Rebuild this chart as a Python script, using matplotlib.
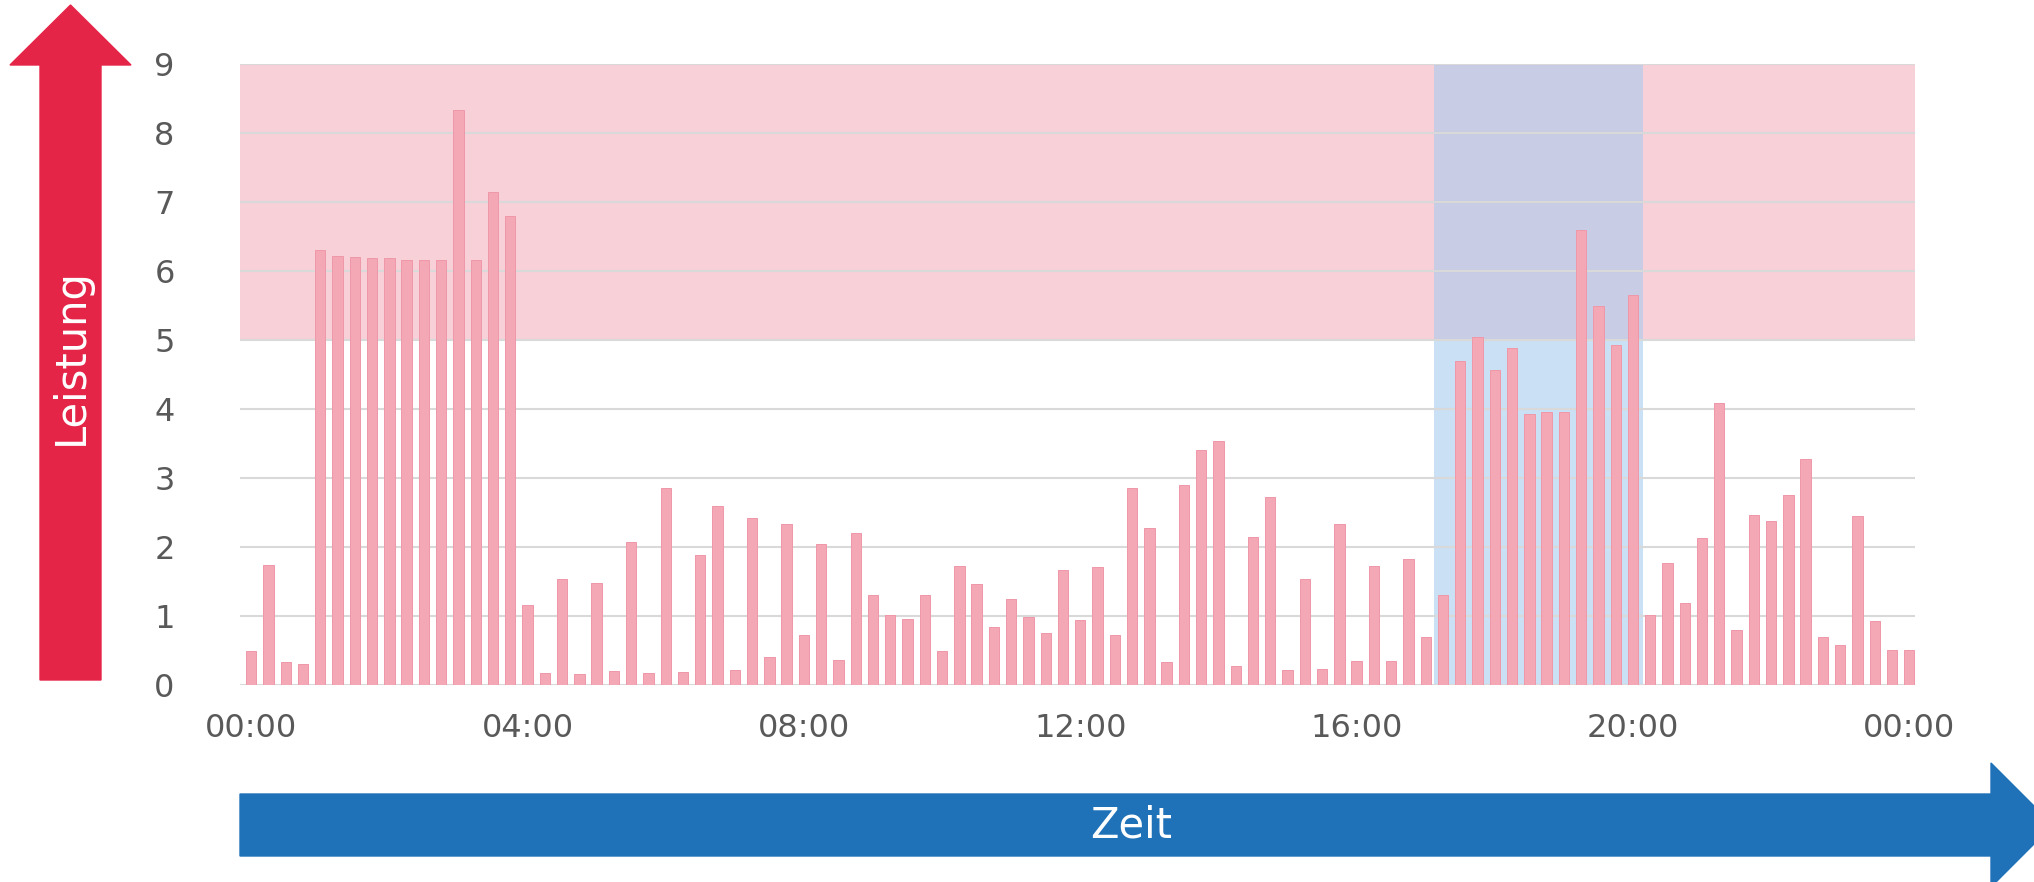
import numpy as np
import matplotlib
matplotlib.use("Agg")
import matplotlib.pyplot as plt
from matplotlib.patches import Polygon

# Leistung je Viertelstunde, 00:00 bis 24:00 (97 Werte)
leistung = [0.50, 1.74, 0.33, 0.31, 6.30, 6.22, 6.20, 6.19, 6.19, 6.16, 6.16, 6.16,
            8.33, 6.16, 7.14, 6.80, 1.16, 0.17, 1.53, 0.16, 1.48, 0.21, 2.07, 0.17,
            2.86, 0.19, 1.89, 2.60, 0.22, 2.42, 0.40, 2.34, 0.73, 2.04, 0.36, 2.20,
            1.31, 1.02, 0.96, 1.30, 0.49, 1.73, 1.46, 0.84, 1.25, 0.98, 0.76, 1.67,
            0.94, 1.71, 0.73, 2.86, 2.27, 0.33, 2.90, 3.40, 3.53, 0.28, 2.14, 2.72,
            0.22, 1.54, 0.23, 2.34, 0.35, 1.73, 0.35, 1.82, 0.69, 1.30, 4.69, 5.05,
            4.57, 4.89, 3.93, 3.95, 3.96, 6.60, 5.49, 4.93, 5.65, 1.01, 1.77, 1.19,
            2.13, 4.09, 0.80, 2.46, 2.38, 2.75, 3.27, 0.69, 0.58, 2.45, 0.93, 0.51,
            0.51]
zeit_labels = ["00:00", "04:00", "08:00", "12:00", "16:00", "20:00", "00:00"]
y_ticks = [0, 1, 2, 3, 4, 5, 6, 7, 8, 9]
grenze = 5          # Schwelle fuer den roten Bereich
hochlast = (68.5, 80.6)  # Hochlastfenster (Index der Viertelstunden)

W, H = 2034, 882
fig = plt.figure(figsize=(W / 100, H / 100), dpi=100)
ax = fig.add_axes([240 / W, 1 - 685 / H, (1915 - 240) / W, (685 - 64) / H])

x = np.arange(len(leistung))
ax.set_xlim(-0.65, len(leistung) - 0.67)
ax.set_ylim(0, 9)

# Hintergrundbereiche
ax.axhspan(grenze, 9, color="#F8D0D8", zorder=0, lw=0)
ax.axvspan(hochlast[0], hochlast[1], ymax=grenze / 9, color="#CAE0F4", zorder=0.5, lw=0)
ax.axvspan(hochlast[0], hochlast[1], ymin=grenze / 9, color="#C8CCE4", zorder=0.5, lw=0)

# Gitter
for yv in y_ticks:
    ax.axhline(yv, color="#D9D9D9", lw=1.5, zorder=1)

ax.bar(x, leistung, width=0.6, color="#F4A7B5", edgecolor="#EF97A9", linewidth=0.7, zorder=2)

ax.set_yticks(y_ticks)
ax.set_xticks(np.arange(0, len(leistung), 16))
ax.set_xticklabels(zeit_labels)
ax.tick_params(axis="both", length=0, labelsize=23, labelcolor="#595959")
ax.tick_params(axis="x", pad=20)
ax.tick_params(axis="y", pad=47)
for s in ax.spines.values():
    s.set_visible(False)


def fig_pts(pts):
    return [(px / W, 1 - py / H) for px, py in pts]


# Pfeil Leistung (rot, nach oben)
rot = [(40, 680), (40, 65), (10, 65), (70.5, 5), (131, 65), (101, 65), (101, 680)]
fig.patches.append(Polygon(fig_pts(rot), closed=True, color="#E52548",
                           transform=fig.transFigure, figure=fig))
fig.text(70.5 / W, 1 - 357 / H, "Leistung", rotation=90, color="white",
         fontsize=30, ha="center", va="center")

# Pfeil Zeit (blau, nach rechts)
blau = [(240, 794), (1991, 794), (1991, 763), (2053, 825), (1991, 887), (1991, 856), (240, 856)]
fig.patches.append(Polygon(fig_pts(blau), closed=True, color="#1F71B8",
                           transform=fig.transFigure, figure=fig))
fig.text(1131 / W, 1 - 825 / H, "Zeit", color="white", fontsize=30,
         ha="center", va="center")

fig.savefig("out.png", dpi=100)
